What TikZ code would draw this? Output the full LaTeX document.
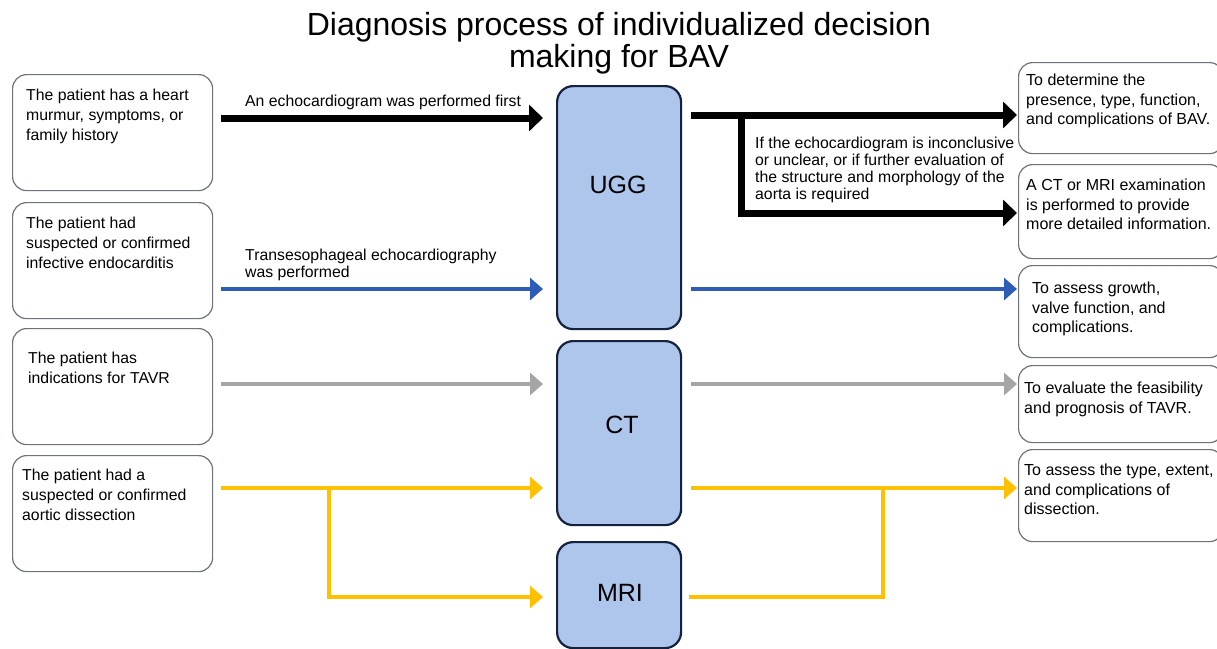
\documentclass[tikz,border=0pt]{standalone}
\usepackage{fontspec}
\setmainfont{Liberation Sans}
\usetikzlibrary{arrows.meta,calc}
\definecolor{boxgray}{HTML}{6E737A}
\definecolor{bluefill}{HTML}{AEC6EC}
\definecolor{navy}{HTML}{15223F}
\definecolor{arrblue}{HTML}{2E5DB8}
\definecolor{arrgray}{HTML}{A5A5A5}
\definecolor{arryel}{HTML}{FFC000}
\tikzset{
  sidebox/.style={draw=boxgray, line width=1.2pt, rounded corners=14pt, fill=white, inner sep=0pt, anchor=north west},
  midbox/.style={draw=navy, line width=2.2pt, rounded corners=16pt, fill=bluefill, inner sep=0pt, anchor=north west, minimum width=124pt},
  midtxt/.style={inner sep=0pt, font={\fontsize{25}{30}\selectfont}},
  txt/.style={inner sep=0pt, anchor=north west, align=left, font={\fontsize{15.8}{20}\selectfont}},
  rtxt/.style={inner sep=0pt, anchor=north west, align=left, font={\fontsize{16}{19.5}\selectfont}},
  lbl/.style={inner sep=0pt, anchor=north west, align=left, font={\fontsize{15.8}{17}\selectfont}},
  blk/.style={line width=7pt, draw=black, -{Triangle[length=14pt,width=26pt]}},
  blu/.style={line width=4pt, draw=arrblue, -{Triangle[length=13pt,width=22pt]}},
  gry/.style={line width=4pt, draw=arrgray, -{Triangle[length=13pt,width=22pt]}},
  yel/.style={line width=4pt, draw=arryel, -{Triangle[length=13pt,width=22pt]}},
  yelline/.style={line width=4pt, draw=arryel}
}
\begin{document}
\begin{tikzpicture}[x=1pt,y=-1pt]
\useasboundingbox[fill=white] (0,0) rectangle (1217,648);

% title
\node[align=center, inner sep=0pt, font={\fontsize{32}{32}\selectfont}] (title) at (619,43) {Diagnosis process of individualized decision\\making for BAV};

% left boxes
\node[sidebox, minimum width=200pt, minimum height=116pt] (l1) at (12,74) {};
\node[sidebox, minimum width=200pt, minimum height=116pt] (l2) at (12,202) {};
\node[sidebox, minimum width=200pt, minimum height=116pt] (l3) at (12,328) {};
\node[sidebox, minimum width=200pt, minimum height=116pt] (l4) at (12,455) {};
\node[txt] (t1) at ($(l1.north west)+(14,15)$) {The patient has a heart\\murmur, symptoms, or\\family history};
\node[txt] (t2) at ($(l2.north west)+(14,15)$) {The patient had\\suspected or confirmed\\infective endocarditis};
\node[txt] (t3) at ($(l3.north west)+(16,24)$) {The patient has\\indications for TAVR};
\node[txt] (t4) at ($(l4.north west)+(10,14)$) {The patient had a\\suspected or confirmed\\aortic dissection};

% middle boxes
\node[midbox, minimum height=243pt] (ugg) at (556,85) {};
\node[midbox, minimum height=184pt] (ct) at (556,340) {};
\node[midbox, minimum height=106pt] (mri) at (556,541) {};
\node[midtxt] (uggt) at (618,185) {UGG};
\node[midtxt] (ctt) at (622,425) {CT};
\node[midtxt] (mrit) at (620,593) {MRI};

% right boxes
\node[sidebox, minimum width=205pt, minimum height=91pt] (r1) at (1018,62) {};
\node[sidebox, minimum width=205pt, minimum height=94pt] (r2) at (1018,164) {};
\node[sidebox, minimum width=205pt, minimum height=92pt] (r3) at (1018,265) {};
\node[sidebox, minimum width=205pt, minimum height=77pt] (r4) at (1018,365) {};
\node[sidebox, minimum width=205pt, minimum height=92pt] (r5) at (1018,449) {};
\node[rtxt] (s1) at ($(r1.north west)+(8,12)$) {To determine the\\presence, type, function,\\and complications of BAV.};
\node[rtxt] (s2) at ($(r2.north west)+(8,15)$) {A CT or MRI examination\\is performed to provide\\more detailed information.};
\node[rtxt] (s3) at ($(r3.north west)+(14,17)$) {To assess growth,\\valve function, and\\complications.};
\node[rtxt] (s4) at ($(r4.north west)+(6,17)$) {To evaluate the feasibility\\and prognosis of TAVR.};
\node[rtxt] (s5) at ($(r5.north west)+(6,15)$) {To assess the type, extent,\\and complications of\\dissection.};

% coordinates
\coordinate (a1s) at (l1.east |- 0,118);
\coordinate (a1e) at (ugg.west |- 0,118);
\coordinate (a2s) at (l2.east |- 0,289);
\coordinate (a2e) at (ugg.west |- 0,289);
\coordinate (a3s) at (l3.east |- 0,384);
\coordinate (a3e) at (ct.west |- 0,384);
\coordinate (a4s) at (l4.east |- 0,488);
\coordinate (a4e) at (ct.west |- 0,488);
\coordinate (a4m) at (mri.west |- 0,597);
\coordinate (yl) at (329,488);

% left arrows
\draw[blk] ([xshift=8pt]a1s) -- ([xshift=-13pt]a1e);
\draw[blu] ([xshift=8pt]a2s) -- ([xshift=-13pt]a2e);
\draw[gry] ([xshift=8pt]a3s) -- ([xshift=-13pt]a3e);
\draw[yel] ([xshift=8pt]a4s) -- ([xshift=-13pt]a4e);
\draw[yel] (yl) |- ([xshift=-13pt]a4m);

\node[lbl] (lab1) at (245,95) {An echocardiogram was performed first};
\node[lbl] (lab2) at (245,249) {Transesophageal echocardiography\\was performed};

% right arrows
\coordinate (b1s) at (ugg.east |- 0,115);
\coordinate (b1e) at (r1.west |- 0,115);
\coordinate (b2e) at (r2.west |- 0,213);
\coordinate (bk) at (741,115);
\draw[blk] ([xshift=9pt]b1s) -- ([xshift=-1pt]b1e);
\draw[blk] ([yshift=-3.5pt]bk) |- ([xshift=-1pt]b2e);
\node[lbl] (lab3) at (755,137) {If the echocardiogram is inconclusive\\or unclear, or if further evaluation of\\the structure and morphology of the\\aorta is required};

\coordinate (b3s) at (ugg.east |- 0,289);
\coordinate (b3e) at (r3.west |- 0,289);
\draw[blu] ([xshift=9pt]b3s) -- ([xshift=-1pt]b3e);
\coordinate (b4s) at (ct.east |- 0,384);
\coordinate (b4e) at (r4.west |- 0,384);
\draw[gry] ([xshift=9pt]b4s) -- ([xshift=-1pt]b4e);
\coordinate (b5s) at (ct.east |- 0,488);
\coordinate (b5e) at (r5.west |- 0,488);
\coordinate (b6s) at (mri.east |- 0,597);
\coordinate (yr) at (883,488);
\draw[yel] ([xshift=9pt]b5s) -- ([xshift=-1pt]b5e);
\draw[yelline] ([xshift=7pt]b6s) -| (yr);
\end{tikzpicture}
\end{document}
